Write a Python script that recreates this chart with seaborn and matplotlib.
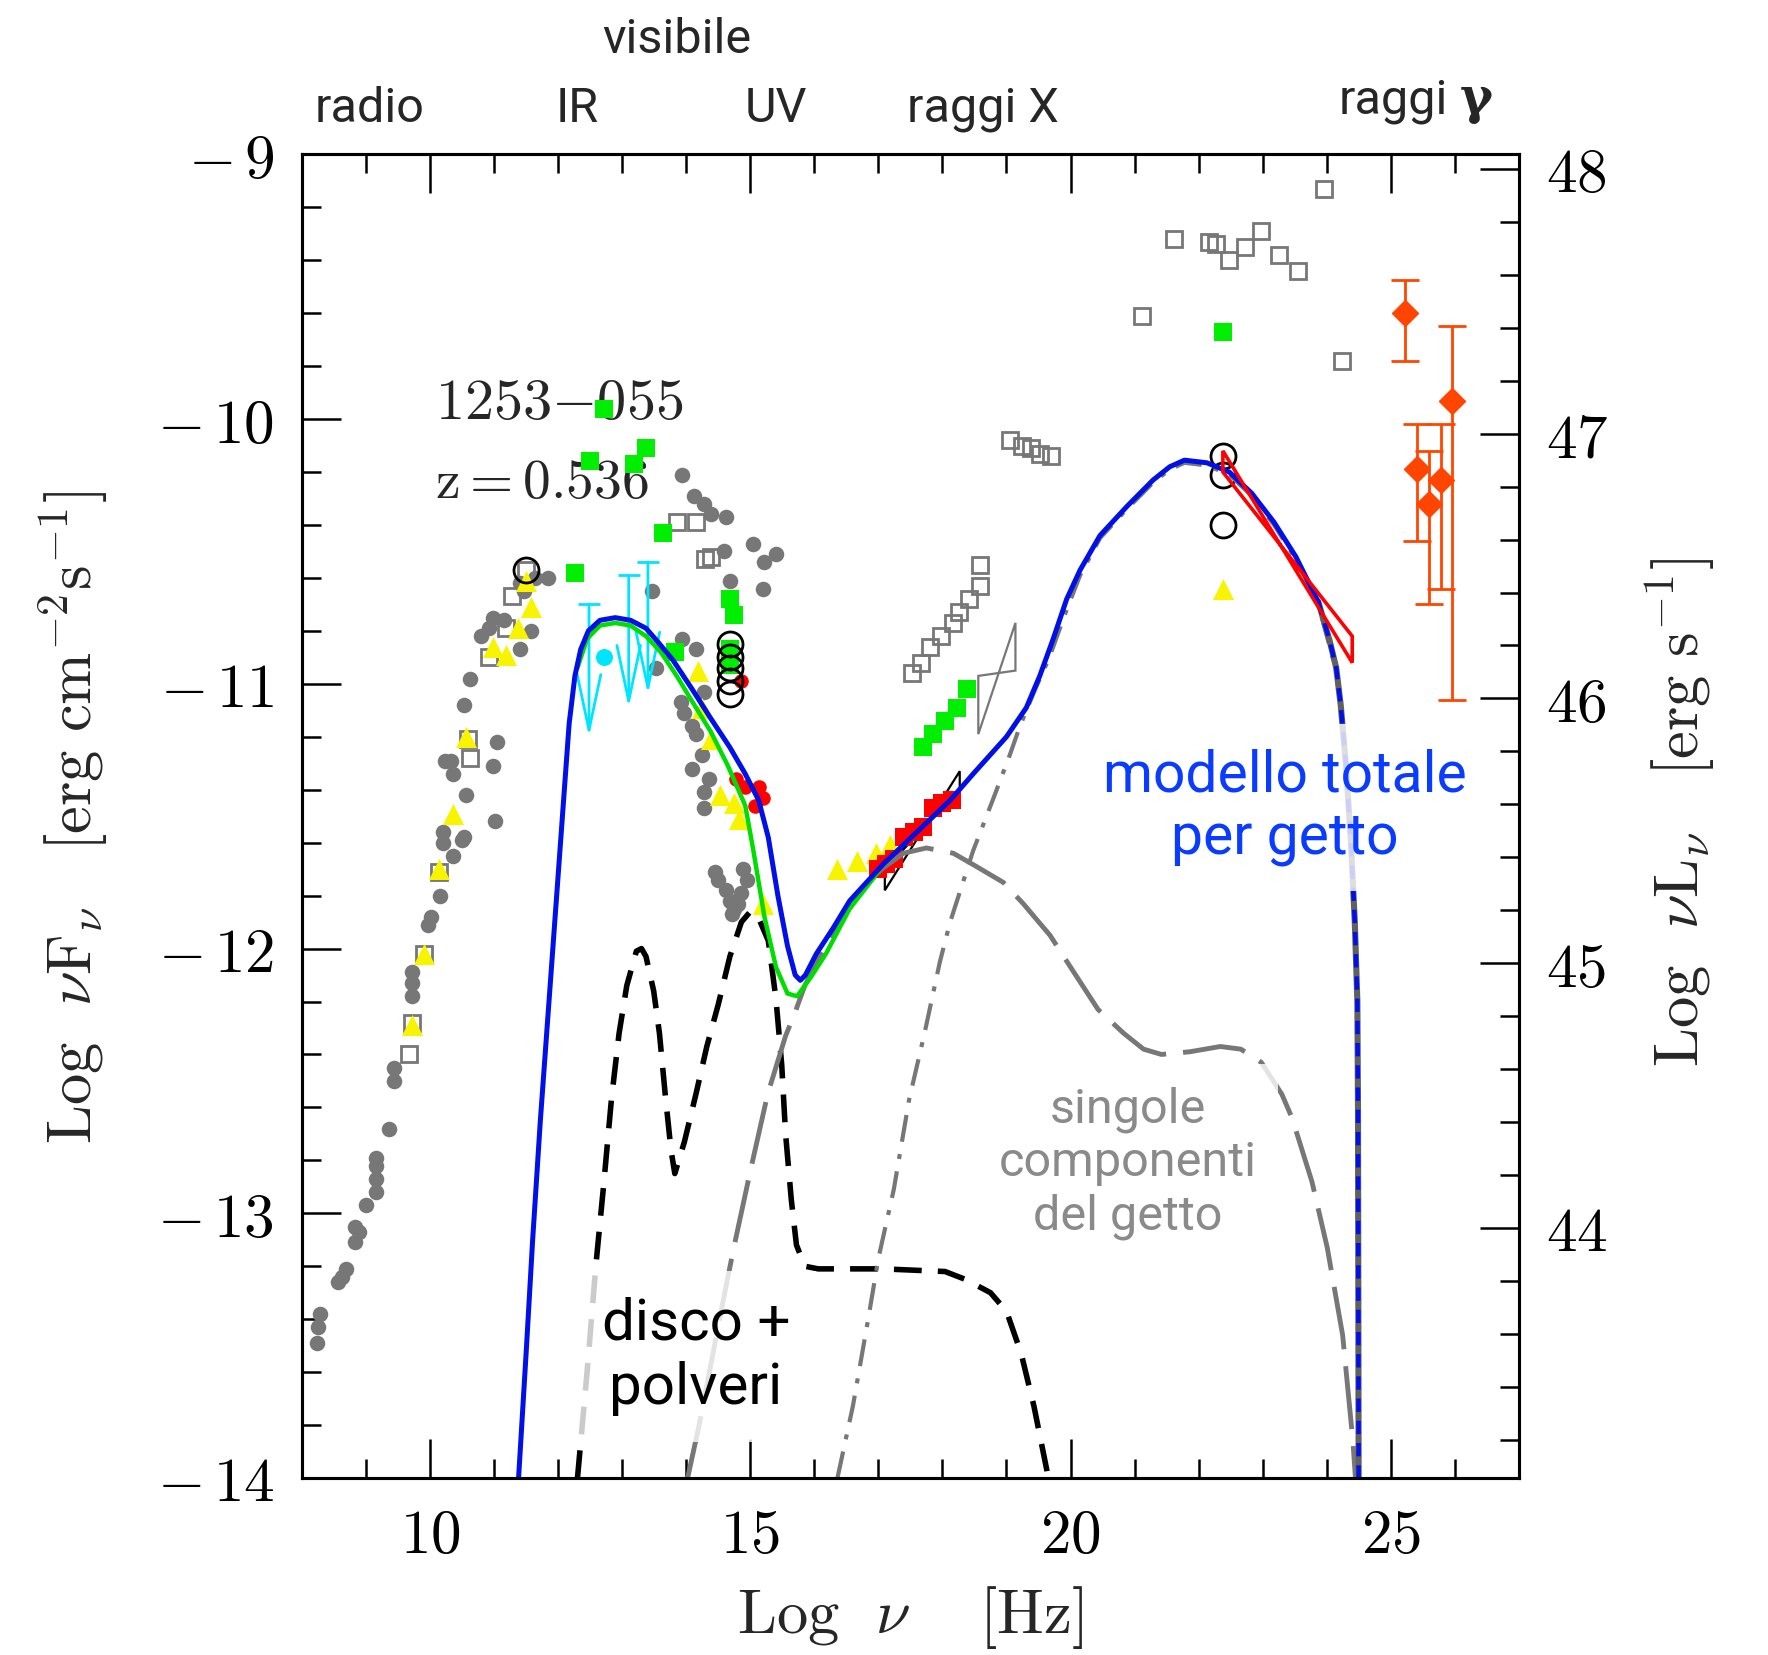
import matplotlib
matplotlib.use("Agg")
import matplotlib.pyplot as plt
from matplotlib.ticker import MultipleLocator, FuncFormatter
import seaborn as sns

# data: x = log nu [Hz], y = log nuFnu [erg cm-2 s-1]

# archival data, grey filled circles
arch_circ_x = [8.23, 8.25, 8.28, 8.56, 8.62, 8.68, 8.83, 8.89, 8.83, 8.99,
               9.15, 9.15, 9.15, 9.15, 9.36, 9.44, 9.44, 9.71, 9.71, 9.71,
               9.96, 10.02, 10.16, 10.20, 10.20, 10.35, 10.50, 11.01, 10.53, 10.56,
               10.35, 10.23, 10.32, 10.98, 11.04, 10.53, 10.62, 10.80, 10.92, 10.98,
               11.16, 11.58, 11.40, 11.40, 11.46, 11.64, 11.84,
               13.94, 14.12, 14.27, 14.38, 14.62, 15.04, 15.40, 15.22, 14.59, 14.68,
               15.19, 13.46, 13.94, 14.15, 13.52, 14.27, 13.91, 13.97, 14.09, 14.15,
               14.24, 14.09, 14.35, 14.27, 14.27,
               14.44, 14.50, 14.62, 14.68, 14.74, 14.71, 14.89, 14.95, 14.86, 14.80]
arch_circ_y = [-13.49, -13.43, -13.38, -13.26, -13.24, -13.21, -13.11, -13.07, -13.05, -12.97,
               -12.92, -12.87, -12.82, -12.79, -12.68, -12.50, -12.45, -12.18, -12.13, -12.09,
               -11.91, -11.88, -11.80, -11.60, -11.56, -11.65, -11.59, -11.52, -11.58, -11.42,
               -11.34, -11.29, -11.29, -11.31, -11.22, -11.08, -10.98, -10.82, -10.79, -10.75,
               -10.76, -10.80, -10.87, -10.62, -10.65, -10.60, -10.60,
               -10.21, -10.29, -10.32, -10.36, -10.37, -10.47, -10.51, -10.54, -10.50, -10.61,
               -10.64, -10.65, -10.83, -10.87, -10.94, -11.03, -11.07, -11.11, -11.16, -11.19,
               -11.27, -11.32, -11.36, -11.41, -11.47,
               -11.71, -11.74, -11.78, -11.82, -11.85, -11.87, -11.70, -11.74, -11.79, -11.83]

# archival data, grey open squares
arch_sq_x = [9.67, 9.71, 9.90, 10.14, 10.59, 10.62, 10.92, 11.19, 11.27, 11.49,
             13.85, 14.15, 14.29, 14.38,
             17.53, 17.67, 17.81, 17.98, 18.16, 18.26, 18.42, 18.58, 18.58,
             19.06, 19.24, 19.38, 19.52, 19.69,
             21.12, 21.62, 22.17, 22.27, 22.48, 22.72, 22.97, 23.25, 23.55, 23.96, 24.24]
arch_sq_y = [-12.40, -12.28, -12.02, -11.71, -11.21, -11.28, -10.90, -10.79, -10.67, -10.57,
             -10.39, -10.39, -10.53, -10.52,
             -10.96, -10.92, -10.86, -10.82, -10.77, -10.73, -10.68, -10.63, -10.55,
             -10.08, -10.10, -10.11, -10.13, -10.14,
             -9.61, -9.32, -9.33, -9.34, -9.40, -9.35, -9.29, -9.38, -9.44, -9.13, -9.78]

green_x = [12.71, 12.50, 13.19, 13.37, 13.64, 12.26, 13.82, 14.68, 14.74, 14.68, 14.68,
           17.69, 17.86, 18.04, 18.22, 18.38, 22.38]
green_y = [-9.96, -10.16, -10.17, -10.11, -10.43, -10.58, -10.88, -10.68, -10.74, -10.87, -10.93,
           -11.24, -11.19, -11.14, -11.09, -11.02, -9.67]

yel_x = [9.71, 9.90, 10.14, 10.35, 10.56, 10.98, 11.19, 11.37, 11.58, 11.49,
         14.18, 14.24, 14.38, 14.53, 14.74, 14.83, 15.19,
         16.35, 16.66, 16.96, 17.18, 22.38]
yel_y = [-12.29, -12.02, -11.70, -11.49, -11.20, -10.86, -10.89, -10.79, -10.71, -10.61,
         -10.95, -11.09, -11.21, -11.42, -11.45, -11.51, -11.83,
         -11.70, -11.67, -11.64, -11.61, -10.64]

red_opt_x = [14.86, 14.77, 14.92, 15.13, 15.19, 15.07]
red_opt_y = [-10.99, -11.36, -11.39, -11.39, -11.43, -11.46]
red_xr_x = [17.00, 17.12, 17.25, 17.40, 17.55, 17.70, 17.85, 18.00, 18.15]
red_xr_y = [-11.70, -11.68, -11.66, -11.58, -11.56, -11.54, -11.47, -11.45, -11.44]

ring_x = [11.49, 14.68, 14.68, 14.68, 14.68, 14.68, 22.38, 22.38, 22.38]
ring_y = [-10.57, -10.85, -10.90, -10.94, -10.99, -11.04, -10.14, -10.21, -10.40]

# IR upper limits (cyan) and one detection
ul_x = [12.48, 13.10, 13.40]
ul_top = [-10.70, -10.59, -10.54]
ul_tip = [-11.20, -11.09, -11.04]
cyan_x = [12.71]
cyan_y = [-10.90]

# gamma-ray points with errors
gam_x = [25.22, 25.41, 25.60, 25.78, 25.96]
gam_y = [-9.60, -10.19, -10.32, -10.23, -9.93]
gam_lo = [-9.78, -10.46, -10.70, -10.64, -11.06]
gam_hi = [-9.475, -10.02, -10.12, -10.02, -9.648]

# spectral bow-ties
fermi_x = [22.38, 24.40, 24.40, 22.38]
fermi_y = [-10.12, -10.92, -10.82, -10.20]
bat_x = [18.56, 18.56, 19.14, 19.14]
bat_y = [-10.97, -11.19, -10.77, -10.95]
xrt_x = [17.10, 18.27, 18.27, 17.10]
xrt_y = [-11.70, -11.40, -11.33, -11.78]

# model curves
blue_x = [11.38, 11.50, 11.60, 11.72, 11.84, 11.96, 12.08, 12.17, 12.26, 12.35, 12.47,
          12.65, 12.89, 13.13, 13.37, 13.55, 13.79, 14.09, 14.38, 14.68, 14.92,
          15.13, 15.28, 15.43, 15.58, 15.70, 15.78, 15.86, 16.03, 16.30, 16.55,
          17.08, 17.60, 18.12, 18.48, 19.00, 19.31, 19.52, 19.73, 19.94, 20.15,
          20.46, 20.88, 21.29, 21.55, 21.78, 22.13, 22.48, 22.83, 23.18, 23.52,
          23.87, 24.05, 24.15, 24.22, 24.30, 24.38, 24.44, 24.48, 24.49, 24.50]
blue_y = [-14.0, -13.52, -13.10, -12.65, -12.25, -11.85, -11.45, -11.15, -10.97, -10.87, -10.80,
          -10.76, -10.75, -10.76, -10.79, -10.84, -10.91, -11.02, -11.13, -11.24, -11.34,
          -11.44, -11.58, -11.80, -11.99, -12.10, -12.12, -12.10, -12.02, -11.92, -11.82,
          -11.68, -11.56, -11.44, -11.34, -11.20, -11.09, -10.97, -10.83, -10.68, -10.57,
          -10.44, -10.33, -10.23, -10.18, -10.155, -10.165, -10.20, -10.28, -10.39, -10.52,
          -10.69, -10.84, -10.94, -11.08, -11.30, -11.60, -11.90, -12.20, -12.60, -14.0]

sync_x = [12.30, 12.45, 12.65, 12.89, 13.13, 13.37, 13.60, 13.85, 14.10, 14.38, 14.65,
          14.92, 15.04, 15.22, 15.40, 15.58, 15.73, 15.94, 16.18, 16.55, 17.00]
sync_y = [-10.94, -10.83, -10.78, -10.77, -10.78, -10.82, -10.88, -10.97, -11.07, -11.18, -11.31,
          -11.46, -11.62, -11.88, -12.07, -12.17, -12.18, -12.11, -12.02, -11.85, -11.71]

ssc_x = [14.02, 14.20, 14.40, 14.60, 14.75, 15.00, 15.27, 15.55, 15.70, 15.85, 16.06,
         16.40, 16.71, 17.05, 17.39, 17.75, 18.17, 18.53, 18.95, 19.26, 19.68,
         20.00, 20.43, 20.83, 21.14, 21.42, 21.86, 22.34, 22.66, 22.98, 23.30,
         23.46, 23.77, 24.01, 24.25, 24.41, 24.45]
ssc_y = [-14.0, -13.80, -13.55, -13.30, -13.12, -12.84, -12.55, -12.33, -12.24, -12.14, -12.04,
         -11.90, -11.79, -11.70, -11.64, -11.62, -11.64, -11.69, -11.75, -11.83, -11.95,
         -12.07, -12.23, -12.32, -12.38, -12.40, -12.39, -12.37, -12.38, -12.43, -12.55,
         -12.64, -12.88, -13.13, -13.46, -13.86, -14.0]

ec_x = [16.36, 16.60, 16.84, 17.00, 17.24, 17.48, 17.72, 17.96, 18.12, 18.48, 18.80,
        19.05, 19.21, 19.45, 19.67, 19.94, 20.15, 20.46, 20.88, 21.29, 21.55,
        21.78, 22.13, 22.48, 22.83, 23.18, 23.52, 23.87, 24.15, 24.22, 24.30,
        24.38, 24.44, 24.48, 24.49, 24.50]
ec_y = [-14.0, -13.73, -13.40, -13.17, -12.91, -12.57, -12.32, -12.05, -11.90, -11.63, -11.43,
        -11.27, -11.16, -11.02, -10.90, -10.72, -10.59, -10.45, -10.34, -10.24, -10.19,
        -10.165, -10.175, -10.21, -10.29, -10.40, -10.53, -10.70, -10.95, -11.09, -11.30,
        -11.60, -11.90, -12.20, -12.60, -14.0]

disk_x = [12.30, 12.45, 12.59, 12.71, 12.83, 12.95, 13.07, 13.22, 13.30, 13.37, 13.49,
          13.58, 13.67, 13.76, 13.82, 13.97, 14.15, 14.32, 14.50, 14.68, 14.86,
          15.00, 15.12, 15.28, 15.40, 15.49, 15.55, 15.64, 15.72, 15.85, 16.06,
          17.07, 18.04, 18.36, 18.75, 19.00, 19.23, 19.43, 19.63, 19.65]
disk_y = [-14.0, -13.60, -13.19, -12.89, -12.57, -12.32, -12.14, -12.01, -12.00, -12.03, -12.16,
          -12.32, -12.55, -12.76, -12.85, -12.73, -12.55, -12.37, -12.21, -12.03, -11.90,
          -11.86, -11.88, -11.97, -12.19, -12.44, -12.70, -12.95, -13.12, -13.20, -13.21,
          -13.21, -13.22, -13.25, -13.30, -13.37, -13.53, -13.73, -13.97, -14.0]

L_OFFSET = 57.055  # log nuL_nu - log nuF_nu

GREY = "#777777"
BLUE = "#0010e6"
SANS = "Roboto"

sns.set_theme(style="ticks")
plt.rcParams["font.family"] = ["DejaVu Serif"]
plt.rcParams["mathtext.fontset"] = "cm"
plt.rcParams["axes.edgecolor"] = "black"
plt.rcParams["xtick.color"] = "black"
plt.rcParams["ytick.color"] = "black"

fig = plt.figure(figsize=(17.68, 16.55), dpi=100)
ax = fig.add_axes([0.1709, 0.10695, 0.6881, 0.79976])


def curve(xs, ys, **kw):
    sns.lineplot(x=xs, y=ys, sort=False, estimator=None, legend=False, ax=ax, **kw)


def tick_fmt(v, pos):
    if v < 0:
        return r"$-\,%d$" % round(-v)
    return r"$%d$" % round(v)


# data points
sns.scatterplot(x=arch_circ_x, y=arch_circ_y, marker="o", s=125, color=GREY,
                linewidth=0, ax=ax, zorder=3, legend=False)
ax.plot(arch_sq_x, arch_sq_y, "s", ms=12, mfc="none", mec=GREY, mew=2, zorder=3)
sns.scatterplot(x=green_x, y=green_y, marker="s", s=170, color="#00ee00",
                linewidth=0, ax=ax, zorder=3, legend=False)
sns.scatterplot(x=yel_x, y=yel_y, marker="^", s=230, color="#f8f400",
                linewidth=0, ax=ax, zorder=3.2, legend=False)
sns.scatterplot(x=red_opt_x, y=red_opt_y, marker="o", s=110, color="#ff0000",
                linewidth=0, ax=ax, zorder=3.3, legend=False)
sns.scatterplot(x=red_xr_x, y=red_xr_y, marker="s", s=150, color="#ff0000",
                linewidth=0, ax=ax, zorder=3.3, legend=False)
ax.plot(ring_x, ring_y, "o", ms=18, mfc="none", mec="black", mew=2, zorder=3.4)

# IR upper limits
CYAN = "#00e5ff"
ax.plot(ul_x, ul_top, "_", ms=16, mew=2, color=CYAN, zorder=3.5)
for x, top, tip in zip(ul_x, ul_top, ul_tip):
    ax.annotate("", xy=(x, tip), xytext=(x, top),
                arrowprops=dict(arrowstyle="->,head_length=4.0,head_width=0.85",
                                color=CYAN, lw=2, shrinkA=0, shrinkB=0,
                                mutation_scale=10), zorder=3.5)
sns.scatterplot(x=cyan_x, y=cyan_y, marker="o", s=150, color=CYAN,
                linewidth=0, ax=ax, zorder=3.5, legend=False)

# gamma rays
ORANGE = "#ff4500"
ax.errorbar(gam_x, gam_y,
            yerr=[[g - lo for g, lo in zip(gam_y, gam_lo)],
                  [hi - g for g, hi in zip(gam_y, gam_hi)]],
            fmt="D", ms=13, color=ORANGE, mec=ORANGE, ecolor=ORANGE,
            elinewidth=2, capsize=10, capthick=2, zorder=3.5)

# model curves
curve(disk_x, disk_y, color="black", lw=4, linestyle=(0, (5, 2.9)), zorder=4)
curve(ssc_x, ssc_y, color=GREY, lw=3.5, linestyle=(0, (13, 3.5)), zorder=4)
curve(ec_x, ec_y, color=GREY, lw=3, linestyle=(0, (6.5, 3, 1.2, 3)), zorder=4)
curve(sync_x, sync_y, color="#00dd00", lw=3.2, zorder=4.5)

head = [(x, y) for x, y in zip(blue_x, blue_y) if x <= 23.87]
tail = [(x, y) for x, y in zip(blue_x, blue_y) if x >= 23.87]
curve([p[0] for p in head], [p[1] for p in head], color=BLUE, lw=3.6, zorder=5)
curve([p[0] for p in tail], [p[1] for p in tail], color="#606060", lw=4.4, zorder=4.8)
curve([p[0] for p in tail], [p[1] for p in tail], color=BLUE, lw=3.2,
      linestyle=(0, (3, 2)), zorder=5)

# bow-ties
ax.add_patch(plt.Polygon(list(zip(xrt_x, xrt_y)), closed=True, fill=False,
                         ec="black", lw=1.6, zorder=3.25))
ax.add_patch(plt.Polygon(list(zip(bat_x, bat_y)), closed=True, fill=False,
                         ec=GREY, lw=1.6, zorder=3))
ax.add_patch(plt.Polygon(list(zip(fermi_x, fermi_y)), closed=True, fill=False,
                         ec="#ff0000", lw=2.6, zorder=6))

# axes
ax.set_xlim(8, 27)
ax.set_ylim(-14, -9)
ax.xaxis.set_major_locator(MultipleLocator(5))
ax.xaxis.set_minor_locator(MultipleLocator(1))
ax.yaxis.set_major_locator(MultipleLocator(1))
ax.yaxis.set_minor_locator(MultipleLocator(0.2))
ax.xaxis.set_major_formatter(FuncFormatter(tick_fmt))
ax.yaxis.set_major_formatter(FuncFormatter(tick_fmt))
ax.tick_params(which="major", direction="in", length=28, width=1.8, labelsize=44,
               top=True, right=False, pad=20)
ax.tick_params(which="minor", direction="in", length=14, width=1.8,
               top=True, right=False)
for sp in ax.spines.values():
    sp.set_linewidth(2.2)
ax.set_xlabel("")
ax.set_ylabel("")

ax2 = ax.twinx()
ax2.set_ylim(-14 + L_OFFSET, -9 + L_OFFSET)
ax2.yaxis.set_major_locator(MultipleLocator(1))
ax2.yaxis.set_minor_locator(MultipleLocator(0.2))
ax2.yaxis.set_major_formatter(FuncFormatter(tick_fmt))
ax2.tick_params(which="major", direction="in", length=28, width=1.8, labelsize=44, pad=20)
ax2.tick_params(which="minor", direction="in", length=14, width=1.8)
for sp in ax2.spines.values():
    sp.set_linewidth(2.2)

fig.text(0.5147, 0.0224, r"$\mathrm{Log}\ \ \nu\ \ \ \ [\mathrm{Hz}]$",
         ha="center", va="center", fontsize=45)
fig.text(0.0415, 0.5063,
         r"$\mathrm{Log}\ \ \nu\mathrm{F}_\nu\ \ \ [\mathrm{erg\ cm}^{-2}\mathrm{s}^{-1}]$",
         rotation=90, ha="center", va="center", fontsize=45)
fig.text(0.9503, 0.509,
         r"$\mathrm{Log}\ \ \nu\mathrm{L}_\nu\ \ \ [\mathrm{erg\ s}^{-1}]$",
         rotation=90, ha="center", va="center", fontsize=45)

# source name
ax.text(10.08, -9.94, r"$1253{-}055$", ha="left", va="center", fontsize=42, zorder=2)
ax.text(10.08, -10.24, r"$\mathrm{z}=0.536$", ha="left", va="center", fontsize=40, zorder=2)

# band labels above the frame
top = ax.get_xaxis_transform()
for xb, yb, lab in [(9.06, 1.0247, "radio"), (12.30, 1.0247, "IR"),
                    (15.40, 1.0247, "UV"), (18.64, 1.0247, "raggi X"),
                    (13.85, 1.0767, "visibile")]:
    ax.text(xb, yb, lab, transform=top, ha="center", va="baseline",
            fontsize=35, family=SANS, clip_on=False)
ax.text(25.89, 1.031, "raggi", transform=top, ha="right", va="baseline",
        fontsize=35, family=SANS, clip_on=False)
ax.text(26.33, 1.031, "γ", transform=top, ha="center", va="baseline",
        fontsize=36, family="DejaVu Serif", fontweight="bold", clip_on=False)

# component annotations
box = dict(boxstyle="square,pad=0.45", fc="white", ec="none", alpha=0.8)
ax.text(23.35, -11.466, "modello totale\nper getto", ha="center", va="center",
        fontsize=41, family=SANS, color="#0a3cff", linespacing=1.15,
        bbox=box, zorder=10)
ax.text(20.89, -12.81, "singole\ncomponenti\ndel getto", ha="center", va="center",
        fontsize=35, family=SANS, color="#8a8a8a", linespacing=1.2,
        bbox=box, zorder=10)
ax.text(14.15, -13.54, "disco +\npolveri", ha="center", va="center",
        fontsize=42, family=SANS, color="black", linespacing=1.2,
        bbox=box, zorder=10)

fig.savefig("out.png", dpi=100)
